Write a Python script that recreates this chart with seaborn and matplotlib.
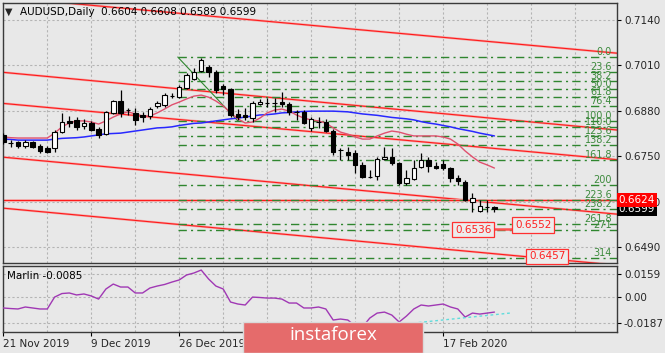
import numpy as np
import pandas as pd
import matplotlib
matplotlib.use('Agg')
import matplotlib.pyplot as plt
import matplotlib.transforms as mtransforms
from matplotlib.patches import Rectangle
import seaborn as sns

# AUDUSD daily candles
opens = [0.6811, 0.6788, 0.6791, 0.6779, 0.6791, 0.6779, 0.6773, 0.6773, 0.6819, 0.6851,
         0.6854, 0.6836, 0.6845, 0.6828, 0.6814, 0.6874, 0.6908, 0.6883, 0.6874, 0.6868,
         0.6865, 0.6894, 0.6897, 0.6922, 0.6919, 0.6945, 0.6971, 0.6994, 0.7005, 0.6991,
         0.6951, 0.6942, 0.6871, 0.6868, 0.6859, 0.6899, 0.6903, 0.6902, 0.6905, 0.6899,
         0.6877, 0.6876, 0.6831, 0.6848, 0.6848, 0.6822, 0.6768, 0.6762, 0.6759, 0.6725,
         0.6691, 0.6693, 0.6742, 0.6748, 0.6730, 0.6673, 0.6685, 0.6719, 0.6739, 0.6722,
         0.6728, 0.6716, 0.6688, 0.6676, 0.6619, 0.6593, 0.6605, 0.6604]
highs = [0.6816, 0.6796, 0.6793, 0.6796, 0.6793, 0.6785, 0.6779, 0.6825, 0.6874, 0.6865,
         0.6862, 0.6856, 0.6851, 0.6834, 0.6879, 0.6911, 0.6940, 0.6888, 0.6888, 0.6876,
         0.6891, 0.6908, 0.6931, 0.6931, 0.6954, 0.6988, 0.7003, 0.7031, 0.7011, 0.6997,
         0.6957, 0.6945, 0.6885, 0.6888, 0.6908, 0.6913, 0.6917, 0.6917, 0.6934, 0.6905,
         0.6882, 0.6882, 0.6862, 0.6862, 0.6856, 0.6828, 0.6773, 0.6776, 0.6768, 0.6733,
         0.6710, 0.6748, 0.6776, 0.6773, 0.6733, 0.6710, 0.6739, 0.6759, 0.6748, 0.6733,
         0.6739, 0.6719, 0.6696, 0.6682, 0.6645, 0.6624, 0.6624, 0.6608]
lows = [0.6785, 0.6776, 0.6773, 0.6773, 0.6773, 0.6759, 0.6759, 0.6762, 0.6816, 0.6834,
        0.6825, 0.6828, 0.6822, 0.6802, 0.6811, 0.6871, 0.6862, 0.6868, 0.6839, 0.6848,
        0.6856, 0.6888, 0.6891, 0.6917, 0.6917, 0.6942, 0.6968, 0.6991, 0.6977, 0.6931,
        0.6925, 0.6862, 0.6854, 0.6854, 0.6848, 0.6896, 0.6891, 0.6876, 0.6891, 0.6868,
        0.6854, 0.6842, 0.6822, 0.6831, 0.6819, 0.6753, 0.6739, 0.6739, 0.6702, 0.6688,
        0.6688, 0.6682, 0.6739, 0.6725, 0.6667, 0.6667, 0.6682, 0.6716, 0.6705, 0.6713,
        0.6710, 0.6676, 0.6667, 0.6622, 0.6590, 0.6590, 0.6590, 0.6589]
closes = [0.6791, 0.6787, 0.6779, 0.6791, 0.6776, 0.6765, 0.6762, 0.6819, 0.6848, 0.6845,
          0.6834, 0.6845, 0.6825, 0.6811, 0.6876, 0.6908, 0.6874, 0.6882, 0.6854, 0.6862,
          0.6885, 0.6902, 0.6925, 0.6923, 0.6948, 0.6982, 0.6991, 0.7025, 0.6991, 0.6940,
          0.6942, 0.6868, 0.6862, 0.6862, 0.6902, 0.6905, 0.6902, 0.6903, 0.6899, 0.6876,
          0.6876, 0.6845, 0.6857, 0.6847, 0.6822, 0.6762, 0.6767, 0.6753, 0.6725, 0.6690,
          0.6690, 0.6742, 0.6748, 0.6730, 0.6673, 0.6688, 0.6716, 0.6739, 0.6722, 0.6716,
          0.6716, 0.6688, 0.6679, 0.6624, 0.6630, 0.6607, 0.6604, 0.6599]

# moving averages drawn on the price chart
ma_blue = [0.6799, 0.6798, 0.6796, 0.6796, 0.6796, 0.6796, 0.6796, 0.6799, 0.6801, 0.6802,
           0.6803, 0.6805, 0.6808, 0.6811, 0.6814, 0.6815, 0.6816, 0.6819, 0.6822, 0.6825,
           0.6828, 0.6831, 0.6832, 0.6834, 0.6838, 0.6841, 0.6844, 0.6845, 0.6848, 0.6851,
           0.6854, 0.6857, 0.6859, 0.6862, 0.6865, 0.6868, 0.6869, 0.6871, 0.6874, 0.6875,
           0.6877, 0.6878, 0.6879, 0.6879, 0.6879, 0.6879, 0.6878, 0.6877, 0.6874, 0.6871,
           0.6869, 0.6867, 0.6864, 0.6861, 0.6859, 0.6857, 0.6854, 0.6849, 0.6845, 0.6842,
           0.6838, 0.6834, 0.6829, 0.6825, 0.6821, 0.6816, 0.6812, 0.6808]
ma_red = [0.6805, 0.6803, 0.6802, 0.6802, 0.6802, 0.6802, 0.6802, 0.6816, 0.6834, 0.6845,
          0.6851, 0.6851, 0.6848, 0.6842, 0.6851, 0.6862, 0.6871, 0.6877, 0.6871, 0.6865,
          0.6865, 0.6874, 0.6885, 0.6897, 0.6905, 0.6914, 0.6922, 0.6925, 0.6919, 0.6908,
          0.6894, 0.6874, 0.6857, 0.6845, 0.6848, 0.6859, 0.6874, 0.6882, 0.6885, 0.6879,
          0.6868, 0.6859, 0.6854, 0.6851, 0.6845, 0.6831, 0.6819, 0.6813, 0.6805, 0.6799,
          0.6799, 0.6808, 0.6816, 0.6822, 0.6819, 0.6813, 0.6808, 0.6808, 0.6808, 0.6808,
          0.6805, 0.6799, 0.6785, 0.6765, 0.6748, 0.6733, 0.6725, 0.6716]

# Marlin oscillator (lower panel)
marlin = [-0.0081, -0.0085, -0.0088, -0.0074, -0.0081, -0.0088, -0.0088, -0.0004, 0.0021, 0.0025,
          0.0011, 0.0018, 0.0004, -0.0018, 0.0053, 0.0088, 0.0067, 0.0067, 0.0025, 0.0025,
          0.0060, 0.0074, 0.0085, 0.0102, 0.0117, 0.0152, 0.0166, 0.0187, 0.0124, 0.0074,
          0.0053, -0.0039, -0.0053, -0.0060, -0.0004, -0.0007, -0.0011, -0.0011, -0.0018, -0.0046,
          -0.0046, -0.0081, -0.0081, -0.0074, -0.0088, -0.0166, -0.0159, -0.0166, -0.0208, -0.0215,
          -0.0152, -0.0117, -0.0110, -0.0131, -0.0180, -0.0138, -0.0088, -0.0060, -0.0067, -0.0060,
          -0.0053, -0.0074, -0.0088, -0.0145, -0.0117, -0.0124, -0.0117, -0.0110]

date_ticks = [0, 12, 24, 36, 48, 60]
date_labels = ['21 Nov 2019', '9 Dec 2019', '26 Dec 2019', '', '', '17 Feb 2020']
price_ticks = [0.7140, 0.7010, 0.6880, 0.6750, 0.6620, 0.6490]
marlin_ticks = [0.0159, 0.0, -0.0187]
marlin_tick_labels = ['0.0159', '0.00', '-0.0187']

# Fibonacci object
fib_start = 23.8
fib_high = 0.7034
fib_low = 0.6851
fib_anchor_end = 32.0
fib_levels = [0, 23.6, 38.2, 50, 61.8, 76.4, 100, 110, 123.6, 138.2, 161.8, 200,
              223.6, 238.2, 261.8, 271, 314, 338.2]
fib_names = ['0.0', '23.6', '38.2', '50.0', '61.8', '76.4', '100.0', '110.0', '123.6',
             '138.2', '161.8', '200', '223.6', '238.2', '261.8', '271', '314', '338.2']

# red channel lines: (bar, price) -> (bar, price)
channel_x = [-0.45, 83.72]
channel_y = [[0.7206, 0.7045], [0.6991, 0.6825], [0.6902, 0.6740],
             [0.6748, 0.6584], [0.6602, 0.6438]]
level_red = 0.6624
last_close = 0.6599

# price text labels
note_texts = ['0.6536', '0.6552', '0.6457']
note_x = [64.1, 72.3, 74.2]
note_y = [0.6539, 0.6553, 0.6463]
note_seg_x = [66.7, 69.4]
note_seg_y = 0.6541

cyan_x = [44.6, 69.1]
cyan_y = [-0.0248, -0.0117]

df = pd.DataFrame({'bar': np.arange(len(closes)), 'open': opens, 'high': highs,
                   'low': lows, 'close': closes, 'ma_blue': ma_blue, 'ma_red': ma_red,
                   'marlin': marlin})

BG = '#e8e8e8'
sns.set_theme(style='white', rc={'axes.facecolor': BG, 'figure.facecolor': BG})
plt.rcParams['font.family'] = ['DejaVu Sans']

fig = plt.figure(figsize=(6.65, 3.53), dpi=100)
ax = fig.add_axes([3 / 665, 1 - 263 / 353, 614 / 665, 260 / 353])
ax2 = fig.add_axes([3 / 665, 1 - 332 / 353, 614 / 665, 66 / 353])

XMIN, XMAX = -0.04, 83.72
grid_kw = dict(color='#b4b4b4', linestyle=(0, (2, 2)), linewidth=0.8)

# ---- main chart
ax.set_xlim(XMIN, XMAX)
ax.set_ylim(0.64441, 0.71887)
ax.set_xticks(np.arange(0, 84, 6))
ax.set_yticks(price_ticks)
ax.set_yticklabels([f'{p:.4f}' for p in price_ticks])
ax.yaxis.tick_right()
ax.tick_params(axis='x', length=0, labelbottom=False)
ax.tick_params(axis='y', length=3, width=0.8, color='black', labelsize=7.5, pad=2, right=True)
ax.grid(True, **grid_kw)
ax.set_axisbelow(True)

# channel lines
for ys in channel_y:
    ax.plot(channel_x, ys, color='#f5a8a8', lw=1.7, zorder=2)
    ax.plot(channel_x, ys, color='#ff1a1a', lw=0.8, zorder=2)
ax.axhline(level_red, color='#f5a8a8', lw=1.9, zorder=2)
ax.axhline(level_red, color='#ff1a1a', lw=0.8, zorder=2)

# fibonacci levels
blend = mtransforms.blended_transform_factory(ax.transAxes, ax.transData)
for lev, name in zip(fib_levels, fib_names):
    price = fib_high - lev / 100 * (fib_high - fib_low)
    ax.hlines(price, fib_start, XMAX, color='#2f862f', lw=1.0,
              linestyle=(0, (6, 3, 1.5, 3)), zorder=2)
    ax.text(0.992, price, name, transform=blend, ha='right', va='bottom',
            fontsize=7, color='#3d8a3d', clip_on=True, zorder=3)
ax.plot([fib_start, fib_anchor_end], [fib_high, fib_low], color='#2f862f', lw=0.8, zorder=2)

# moving averages
sns.lineplot(data=df, x='bar', y='ma_blue', ax=ax, color='#2828ff', lw=1.1, zorder=3)
sns.lineplot(data=df, x='bar', y='ma_red', ax=ax, color='#e0506e', lw=1.0, zorder=3)

# candles
bull = df['close'] >= df['open']
ax.vlines(df['bar'], df['low'], df['high'], color='black', lw=0.9, zorder=4)
ax.bar(df['bar'], (df['close'] - df['open']).abs(), bottom=df[['open', 'close']].min(axis=1),
       width=0.62, color=np.where(bull, 'white', 'black'), edgecolor='black', lw=0.8, zorder=5)

# text notes
for t, nx, ny in zip(note_texts, note_x, note_y):
    ax.text(nx, ny, t, ha='center', va='center', fontsize=7.5, color='#ff2020', zorder=6,
            bbox=dict(boxstyle='square,pad=0.25', facecolor='#ececec', edgecolor='#ff3030', lw=0.9))
ax.plot(note_seg_x, [note_seg_y, note_seg_y], color='#ff5050', lw=1.8, zorder=5)

ax.text(0.003, 0.965, '\u25bc', transform=ax.transAxes, fontsize=7, va='center', ha='left')
ax.text(0.028, 0.965, 'AUDUSD,Daily  0.6604 0.6608 0.6589 0.6599', transform=ax.transAxes,
        fontsize=7.5, va='center', ha='left', color='black')

# price tags on the axis
ax.text(1.003, last_close, f'{last_close:.4f}', transform=blend, ha='left', va='center',
        fontsize=7.5, color='white', clip_on=False, zorder=7,
        bbox=dict(boxstyle='square,pad=0.2', facecolor='black', edgecolor='none'))
ax.text(1.003, level_red, f'{level_red:.4f}', transform=blend, ha='left', va='center',
        fontsize=7.5, color='white', clip_on=False, zorder=8,
        bbox=dict(boxstyle='square,pad=0.2', facecolor='#ff0000', edgecolor='none'))

ax.set_xlabel('')
ax.set_ylabel('')

# ---- Marlin panel
ax2.set_xlim(XMIN, XMAX)
ax2.set_ylim(-0.02506, 0.02155)
sns.lineplot(data=df, x='bar', y='marlin', ax=ax2, color='#a038b4', lw=1.0, zorder=3)
ax2.plot(cyan_x, cyan_y, color='#5fdcdc', lw=1.0, linestyle=(0, (2, 2)), zorder=3)
ax2.set_xticks(date_ticks)
ax2.set_xticklabels(date_labels)
ax2.set_xticks(np.arange(0, 84, 6), minor=True)
for lbl in ax2.get_xticklabels():
    lbl.set_ha('left')
ax2.set_yticks(marlin_ticks)
ax2.set_yticklabels(marlin_tick_labels)
ax2.yaxis.tick_right()
ax2.tick_params(axis='x', which='major', length=3, width=0.8, color='black',
                labelsize=7.5, pad=2, bottom=True)
ax2.tick_params(axis='x', which='minor', length=0)
ax2.tick_params(axis='y', length=3, width=0.8, color='black', labelsize=7.5, pad=2, right=True)
ax2.grid(True, which='both', **grid_kw)
ax2.set_axisbelow(True)
ax2.text(0.007, 0.85, 'Marlin -0.0085', transform=ax2.transAxes, fontsize=7.5,
         va='center', ha='left', color='black')
ax2.set_xlabel('')
ax2.set_ylabel('')

for a in (ax, ax2):
    for side in a.spines.values():
        side.set_visible(True)
        side.set_color('#3a3a3a')
        side.set_linewidth(1.0)

# watermark badge
fig.patches.append(Rectangle((243 / 665, 0), 180 / 665, 31 / 353, transform=fig.transFigure,
                             facecolor='#e56b6b', edgecolor='#d9d9d9', lw=1, zorder=10))
fig.text(333 / 665, 18 / 353, 'instaforex', ha='center', va='center', color='white',
         fontsize=13.5, family='Open Sans', zorder=11)

fig.savefig('out.png', dpi=100)
